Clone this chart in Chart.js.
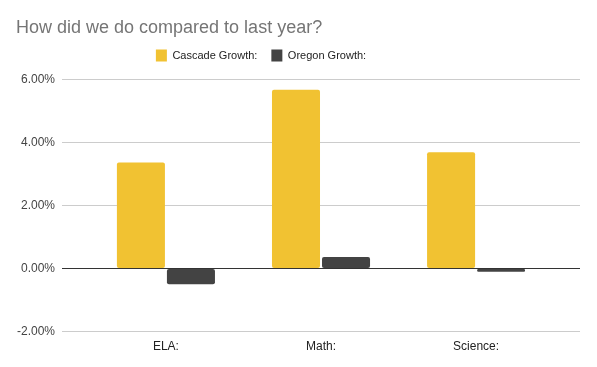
<!DOCTYPE html>
<html lang="en">
<head>
  <meta charset="UTF-8">
  <title>How did we do compared to last year?</title>
  <script src="https://cdn.jsdelivr.net/npm/chart.js"></script>
  <style>
    html, body { margin: 0; padding: 0; background: #fff; }
    .wrap { width: 597px; height: 367px; }
  </style>
</head>
<body>
  <div class="wrap"><canvas id="growthChart" width="597" height="367"></canvas></div>
  <script>
    // --- data
    const subjects = ['ELA:', 'Math:', 'Science:'];
    const cascadeGrowth = [3.37, 5.68, 3.69];
    const oregonGrowth = [-0.50, 0.37, -0.10];
    const yTicks = [-2, 0, 2, 4, 6];

    const toPoints = arr => arr.map((v, i) => ({ x: i, y: v }));

    // legend sits a bit left of centre, with extra room below it
    const legendTweak = {
      id: 'legendTweak',
      beforeInit(chart) {
        const fit = chart.legend.fit;
        chart.legend.fit = function () {
          fit.call(this);
          this.height += 8;
        };
      },
      afterLayout(chart) {
        chart.legend.left -= 37;
        chart.legend.right -= 37;
      }
    };

    const ctx = document.getElementById('growthChart').getContext('2d');
    new Chart(ctx, {
      type: 'bar',
      data: {
        datasets: [
          {
            label: 'Cascade Growth:',
            data: toPoints(cascadeGrowth),
            backgroundColor: '#f1c232',
            borderRadius: 2,
            borderSkipped: false
          },
          {
            label: 'Oregon Growth:',
            data: toPoints(oregonGrowth),
            backgroundColor: '#434343',
            borderRadius: 2,
            borderSkipped: false
          }
        ]
      },
      plugins: [legendTweak],
      options: {
        responsive: false,
        animation: false,
        categoryPercentage: 100 / 155,
        barPercentage: 0.96,
        layout: { padding: { left: 16, right: 17, top: 8, bottom: 13 } },
        plugins: {
          title: {
            display: true,
            text: 'How did we do compared to last year?',
            align: 'start',
            color: '#757575',
            font: { family: 'Liberation Sans, Arial', size: 18, weight: 'normal' },
            padding: { top: 9, bottom: -3 }
          },
          legend: {
            position: 'top',
            labels: {
              boxWidth: 11,
              boxHeight: 12,
              color: '#222',
              font: { family: 'Liberation Sans, Arial', size: 11 },
              padding: 14
            }
          },
          tooltip: { enabled: false }
        },
        scales: {
          x: {
            type: 'linear',
            offset: false,
            min: -0.67,
            max: 2.67,
            afterBuildTicks: axis => { axis.ticks = subjects.map((s, i) => ({ value: i })); },
            ticks: {
              color: '#222',
              padding: 0,
              font: { family: 'Liberation Sans, Arial', size: 12 },
              callback: v => subjects[v] ?? ''
            },
            grid: { display: false, offset: false },
            border: { display: false }
          },
          y: {
            min: -2,
            max: 6,
            afterBuildTicks: axis => { axis.ticks = yTicks.map(v => ({ value: v })); },
            afterFit: axis => { axis.width -= 6; },
            ticks: {
              color: '#444',
              padding: 7,
              font: { family: 'Liberation Sans, Arial', size: 12 },
              callback: v => v.toFixed(2) + '%'
            },
            grid: {
              color: c => c.tick.value === 0 ? '#333' : '#ccc',
              drawTicks: false
            },
            border: { display: false }
          }
        }
      }
    });
  </script>
</body>
</html>
